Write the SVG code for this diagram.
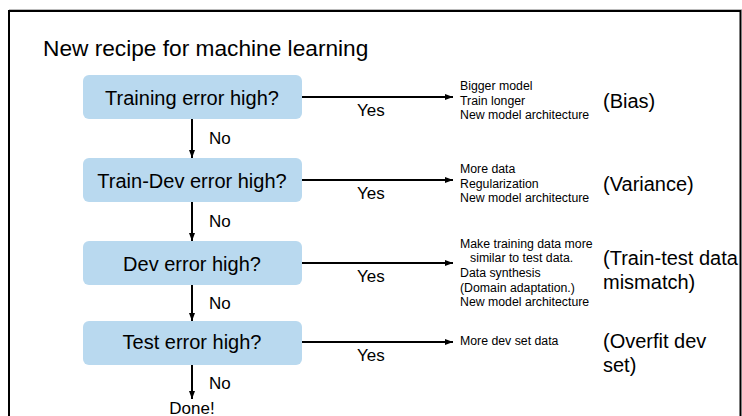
<svg xmlns="http://www.w3.org/2000/svg" width="742" height="416" viewBox="0 0 742 416">
<style>
text{font-family:"Liberation Sans",Arial,sans-serif;fill:#000}
.box{fill:#b9d9ef;stroke:none}
.bt{font-size:20px;text-anchor:middle}
.lab{font-size:17px}
.sm{font-size:12.3px}
.big{font-size:20px}
.ln{stroke:#000;stroke-width:2;fill:none}
</style>
<defs>
<marker id="ah" markerWidth="8" markerHeight="6" refX="8" refY="3" orient="auto" markerUnits="userSpaceOnUse">
<path d="M0,0 L8,3 L0,6 Z" fill="#000"/>
</marker>
</defs>
<rect x="0" y="0" width="742" height="416" fill="#fff"/>
<g id="frame">
<line x1="9" y1="9.5" x2="742" y2="9.5" stroke="#bbb" stroke-width="1"/>
<path d="M9,417 V11 H740.5 V417" fill="none" stroke="#000" stroke-width="2"/>
</g>
<text id="title" x="43" y="56" style="font-size:22.7px">New recipe for machine learning</text>
<g id="connectors">
<line class="ln" x1="302" y1="97" x2="453" y2="97" marker-end="url(#ah)"/>
<line class="ln" x1="302" y1="180" x2="453" y2="180" marker-end="url(#ah)"/>
<line class="ln" x1="302" y1="263" x2="453" y2="263" marker-end="url(#ah)"/>
<line class="ln" x1="302" y1="342" x2="453" y2="342" marker-end="url(#ah)"/>
<line class="ln" x1="192" y1="119" x2="192" y2="158" marker-end="url(#ah)"/>
<line class="ln" x1="192" y1="202" x2="192" y2="241" marker-end="url(#ah)"/>
<line class="ln" x1="192" y1="285" x2="192" y2="321" marker-end="url(#ah)"/>
<line class="ln" x1="192" y1="365" x2="192" y2="399" marker-end="url(#ah)"/>
<text class="lab" x="357" y="116">Yes</text>
<text class="lab" x="357" y="199">Yes</text>
<text class="lab" x="357" y="282">Yes</text>
<text class="lab" x="357" y="361">Yes</text>
<text class="lab" x="209" y="144">No</text>
<text class="lab" x="209" y="227">No</text>
<text class="lab" x="209" y="309">No</text>
<text class="lab" x="209" y="389">No</text>
</g>
<g id="n1"><rect class="box" x="83" y="75" width="219" height="44" rx="6"/><text class="bt" x="192" y="105">Training error high?</text></g>
<g id="n2"><rect class="box" x="83" y="158" width="219" height="44" rx="6"/><text class="bt" x="192" y="188">Train-Dev error high?</text></g>
<g id="n3"><rect class="box" x="83" y="241" width="219" height="44" rx="6"/><text class="bt" x="192" y="271">Dev error high?</text></g>
<g id="n4"><rect class="box" x="83" y="321" width="219" height="44" rx="6"/><text class="bt" x="192" y="349">Test error high?</text></g>
<g id="done"><text class="lab" x="192" y="413.5" text-anchor="middle">Done!</text></g>
<g id="r1"><text class="sm" x="460" y="90">Bigger model</text><text class="sm" x="460" y="104.5">Train longer</text><text class="sm" x="460" y="119">New model architecture</text><text class="big" x="603" y="108">(Bias)</text></g>
<g id="r2"><text class="sm" x="460" y="173">More data</text><text class="sm" x="460" y="187.5">Regularization</text><text class="sm" x="460" y="202">New model architecture</text><text class="big" x="603" y="191">(Variance)</text></g>
<g id="r3"><text class="sm" x="460" y="248">Make training data more</text><text class="sm" x="470" y="262">similar to test data.</text><text class="sm" x="460" y="277">Data synthesis</text><text class="sm" x="460" y="291.5">(Domain adaptation.)</text><text class="sm" x="460" y="306">New model architecture</text><text class="big" x="603" y="265">(Train-test data</text><text class="big" x="603" y="289">mismatch)</text></g>
<g id="r4"><text class="sm" x="460" y="345">More dev set data</text><text class="big" x="603" y="348">(Overfit dev</text><text class="big" x="603" y="372">set)</text></g>
</svg>
